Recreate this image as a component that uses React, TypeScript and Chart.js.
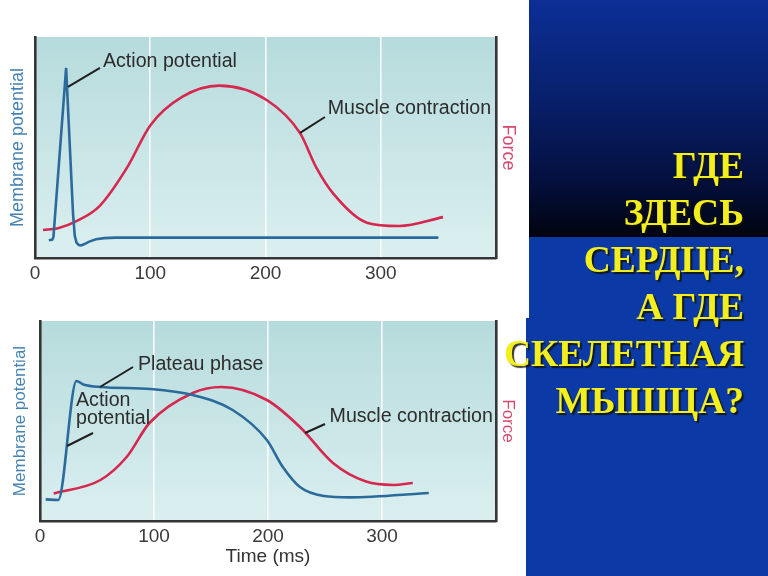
import React, { useEffect, useRef } from 'react';
import { Chart, registerables } from 'chart.js';

Chart.register(...registerables);
Chart.defaults.font.family = '"Liberation Sans", Arial, Helvetica, sans-serif';

// ---------- data ----------
const X_TICKS = [0, 100, 200, 300];
const X_MAX = 400;
const GRID_TICKS = [100, 200, 300];

// Skeletal muscle (top panel)
const SKELETAL_AP_T = [12, 15, 16, 27, 33, 34.5, 36, 38, 40, 43, 47, 53, 60, 70, 150, 250, 350];
const SKELETAL_AP_V = [8.0, 8.3, 9.5, 86, 20, 10, 7.0, 5.9, 5.7, 6.3, 7.4, 8.5, 9.0, 9.2, 9.2, 9.2, 9.2];
const SKELETAL_FORCE_T = [7, 20, 36, 56, 80, 100, 128, 160, 201, 230, 244, 259, 288, 316, 354];
const SKELETAL_FORCE_V = [12.7, 13.5, 16.7, 23.5, 41, 60, 73, 78, 71.5, 56.5, 41, 29, 16, 14.5, 18.5];

// Cardiac muscle (bottom panel)
const CARDIAC_AP_T = [5, 16, 32, 38, 53, 97, 134, 169, 199, 213, 228, 249, 272, 341];
const CARDIAC_AP_V = [10.8, 10.5, 70, 68.3, 67, 66, 63, 55.5, 40.5, 27, 17, 12.5, 11.8, 14];
const CARDIAC_FORCE_T = [12, 53, 76, 96, 134, 159, 199, 228, 257, 286, 310, 327];
const CARDIAC_FORCE_V = [13.8, 20.5, 32, 49, 64, 67, 60.5, 47, 29, 19.7, 18, 19];

const TITLE_LINES = ['ГДЕ', 'ЗДЕСЬ', 'СЕРДЦЕ,', 'А ГДЕ', 'СКЕЛЕТНАЯ', 'МЫШЦА?'];

type Note = { lines: string[]; at: [number, number]; from: [number, number]; to: [number, number] };

const SKELETAL_NOTES: Note[] = [
  { lines: ['Action potential'], at: [59, 88.7], from: [56.4, 86], to: [28.6, 77.4] },
  { lines: ['Muscle contraction'], at: [254, 67.4], from: [251.6, 63.8], to: [230, 56.6] },
];
const CARDIAC_NOTES: Note[] = [
  { lines: ['Plateau phase'], at: [86, 78], from: [81.6, 77], to: [52.6, 67] },
  { lines: ['Action', 'potential'], at: [31.6, 60], from: [46.5, 44], to: [23.7, 37.5] },
  { lines: ['Muscle contraction'], at: [254, 52], from: [250, 48.5], to: [232.5, 44] },
];

// ---------- styles ----------
const BLUE = '#2b6b9c';
const RED = '#d6284f';
const AXIS_DARK = '#353535';
const TEXT_DARK = '#2c2c2c';

const bgPlugin = {
  id: 'panelBg',
  beforeDraw(chart: any) {
    const { ctx, chartArea: a } = chart;
    const g = ctx.createLinearGradient(0, a.top, 0, a.bottom);
    g.addColorStop(0, '#b6dbdc');
    g.addColorStop(1, '#dbeff0');
    ctx.save();
    ctx.fillStyle = g;
    ctx.fillRect(a.left, a.top, a.right - a.left, a.bottom - a.top);
    ctx.restore();
  },
};

function notesPlugin(notes: Note[]) {
  return {
    id: 'notes',
    afterDatasetsDraw(chart: any) {
      const { ctx } = chart;
      const xs = chart.scales.x;
      const ys = chart.scales.y;
      ctx.save();
      ctx.strokeStyle = '#1e1e1e';
      ctx.lineWidth = 2;
      ctx.fillStyle = TEXT_DARK;
      ctx.font = '19.6px "Liberation Sans", Arial, sans-serif';
      ctx.textAlign = 'left';
      ctx.textBaseline = 'middle';
      for (const n of notes) {
        ctx.beginPath();
        ctx.moveTo(xs.getPixelForValue(n.from[0]), ys.getPixelForValue(n.from[1]));
        ctx.lineTo(xs.getPixelForValue(n.to[0]), ys.getPixelForValue(n.to[1]));
        ctx.stroke();
        const x = xs.getPixelForValue(n.at[0]);
        const y = ys.getPixelForValue(n.at[1]);
        n.lines.forEach((line, i) => ctx.fillText(line, x, y + i * 18));
      }
      ctx.restore();
    },
  };
}

type Layout = {
  padTop: number;
  xH: number;
  yW: number;
  y1W: number;
  yTitleSize: number;
  yTitlePad: number;
  y1TitlePad: number;
  tickPad: number;
  xTitle?: { text: string; pad: number };
};

function makeConfig(
  apT: number[], apV: number[], apTension: number,
  fT: number[], fV: number[],
  notes: Note[], L: Layout,
): any {
  const pts = (t: number[], v: number[]) => t.map((x, i) => ({ x, y: v[i] }));
  return {
    type: 'line',
    data: {
      datasets: [
        {
          label: 'Membrane potential',
          data: pts(apT, apV),
          yAxisID: 'y',
          borderColor: BLUE,
          borderWidth: 2.6,
          pointRadius: 0,
          tension: apTension,
          cubicInterpolationMode: apTension > 0 ? 'monotone' : 'default',
          fill: false,
        },
        {
          label: 'Force',
          data: pts(fT, fV),
          yAxisID: 'y1',
          borderColor: RED,
          borderWidth: 2.6,
          pointRadius: 0,
          cubicInterpolationMode: 'monotone',
          fill: false,
        },
      ],
    },
    options: {
      responsive: false,
      animation: false,
      events: [],
      layout: { padding: { top: L.padTop, left: 0, right: 0, bottom: 0 } },
      plugins: { legend: { display: false }, tooltip: { enabled: false } },
      scales: {
        x: {
          type: 'linear',
          min: 0,
          max: X_MAX,
          afterBuildTicks: (s: any) => { s.ticks = X_TICKS.map((value) => ({ value })); },
          afterFit: (s: any) => { s.height = L.xH; },
          ticks: {
            color: '#3a3a3a',
            font: { size: 19 },
            padding: L.tickPad,
            maxRotation: 0,
            autoSkip: false,
          },
          grid: {
            drawTicks: false,
            lineWidth: 1.6,
            color: (c: any) => (c.tick && GRID_TICKS.includes(c.tick.value) ? 'rgba(255,255,255,0.9)' : 'rgba(0,0,0,0)'),
          },
          border: { display: true, color: AXIS_DARK, width: 2.6 },
          title: L.xTitle
            ? { display: true, text: L.xTitle.text, color: '#333', font: { size: 19 }, padding: { top: 0, bottom: L.xTitle.pad } }
            : { display: false },
        },
        y: {
          position: 'left',
          min: 0,
          max: 100,
          afterFit: (s: any) => { s.width = L.yW; },
          ticks: { display: false },
          grid: { display: false },
          border: { display: true, color: AXIS_DARK, width: 2.6 },
          title: {
            display: true,
            text: 'Membrane potential',
            color: '#4683b3',
            font: { size: L.yTitleSize },
            padding: { top: L.yTitlePad, bottom: 0 },
          },
        },
        y1: {
          position: 'right',
          min: 0,
          max: 100,
          afterFit: (s: any) => { s.width = L.y1W; },
          ticks: { display: false },
          grid: { display: false },
          border: { display: true, color: AXIS_DARK, width: 2.6 },
          title: {
            display: true,
            text: 'Force',
            color: '#d9476c',
            font: { size: L.yTitleSize },
            padding: { top: L.y1TitlePad, bottom: 0 },
          },
        },
      },
    },
    plugins: [bgPlugin, notesPlugin(notes)],
  };
}

function ChartCanvas(props: { make: () => any; left: number; top: number; width: number; height: number }) {
  const ref = useRef<HTMLCanvasElement>(null);
  useEffect(() => {
    const chart = new Chart(ref.current as HTMLCanvasElement, props.make());
    return () => chart.destroy();
  }, []);
  return (
    <canvas
      ref={ref}
      width={props.width}
      height={props.height}
      style={{ position: 'absolute', left: props.left, top: props.top, width: props.width, height: props.height }}
    />
  );
}

export default function App() {
  const makeTop = () =>
    makeConfig(SKELETAL_AP_T, SKELETAL_AP_V, 0, SKELETAL_FORCE_T, SKELETAL_FORCE_V, SKELETAL_NOTES, {
      padTop: 37, xH: 37, yW: 35, y1W: 31, yTitleSize: 18, yTitlePad: 7, y1TitlePad: 8, tickPad: 4,
    });
  const makeBottom = () =>
    makeConfig(CARDIAC_AP_T, CARDIAC_AP_V, 0.4, CARDIAC_FORCE_T, CARDIAC_FORCE_V, CARDIAC_NOTES, {
      padTop: 21, xH: 55, yW: 40, y1W: 31, yTitleSize: 17, yTitlePad: 10, y1TitlePad: 9, tickPad: 4,
      xTitle: { text: 'Time (ms)', pad: 8 },
    });

  return (
    <div style={{ position: 'fixed', left: 0, top: 0, width: 768, height: 576, background: '#ffffff', overflow: 'hidden' }}>
      <div
        style={{
          position: 'absolute', left: 529, top: 0, width: 239, height: 237,
          background: 'linear-gradient(to bottom, #0c2f96 0%, #08216e 40%, #041040 75%, #01040f 100%)',
        }}
      />
      <div style={{ position: 'absolute', left: 529, top: 237, width: 239, height: 339, background: '#0b39a6' }} />
      <div style={{ position: 'absolute', left: 526, top: 318, width: 242, height: 258, background: '#0b39a6' }} />
      <ChartCanvas make={makeTop} left={0} top={0} width={527} height={295} />
      <ChartCanvas make={makeBottom} left={0} top={300} width={527} height={276} />
      <div
        style={{
          position: 'absolute', right: 24, top: 142, textAlign: 'right',
          fontFamily: '"Liberation Serif", "Times New Roman", serif', fontWeight: 'bold',
          fontSize: 37.5, lineHeight: '47px', color: '#f3ef1e',
          textShadow: '2px 2px 1px rgba(20,20,0,0.85)', whiteSpace: 'nowrap',
        }}
      >
        {TITLE_LINES.map((l, i) => (
          <div key={i}>{l}</div>
        ))}
      </div>
    </div>
  );
}
